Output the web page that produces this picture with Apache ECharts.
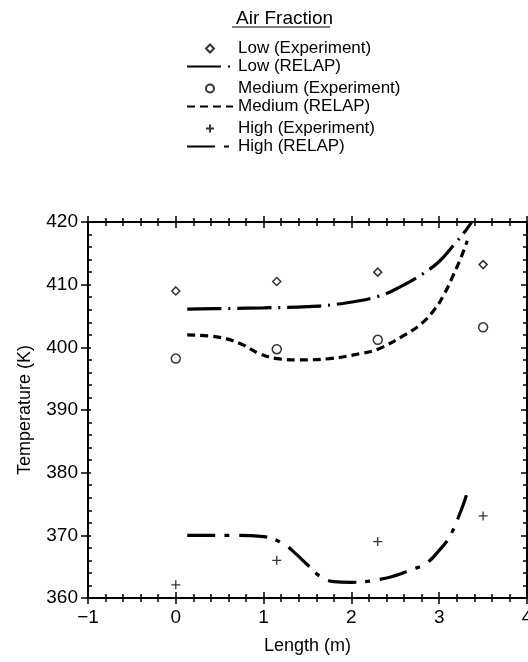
<!DOCTYPE html>
<html>
<head>
<meta charset="utf-8">
<title>Air Fraction</title>
<script src="https://cdn.jsdelivr.net/npm/echarts@6/dist/echarts.min.js"></script>
<style>
  html, body { margin: 0; padding: 0; background: #fff; }
  #main { width: 528px; height: 662px; }
</style>
</head>
<body>
<div id="main"></div>
<script>
// experiment positions (m) and measured temperatures (K)
var expX = [0, 1.15, 2.3, 3.5]
var lowExp = [409.0, 410.5, 412.0, 413.2]
var medExp = [398.2, 399.7, 401.2, 403.2]
var highExp = [362.1, 366.0, 369.0, 373.1]

// RELAP curves
var lowRelapX = [0.13, 0.6, 1.0, 1.5, 1.9, 2.3, 2.55, 2.8, 3.0, 3.17, 3.3, 3.37]
var lowRelapY = [406.1, 406.2, 406.3, 406.5, 407.0, 408.1, 409.6, 411.6, 413.7, 416.4, 418.6, 420.0]
var medRelapX = [0.13, 0.5, 0.75, 0.95, 1.15, 1.4, 1.75, 2.1, 2.3, 2.6, 2.8, 2.95, 3.05, 3.15, 3.25, 3.32]
var medRelapY = [402.0, 401.6, 400.5, 399.0, 398.2, 398.0, 398.2, 399.0, 399.7, 401.9, 403.8, 406.1, 408.3, 411.2, 414.4, 417.0]
var highRelapX = [0.13, 0.6, 1.0, 1.22, 1.34, 1.5, 1.64, 1.8, 2.0, 2.4, 2.7, 2.85, 3.0, 3.12, 3.25, 3.31]
var highRelapY = [370.0, 370.0, 369.8, 368.7, 367.4, 365.3, 363.5, 362.6, 362.5, 363.2, 364.6, 365.5, 367.6, 369.8, 374.0, 376.4]

var names = ['Low (Experiment)', 'Low (RELAP)', 'Medium (Experiment)', 'Medium (RELAP)', 'High (Experiment)', 'High (RELAP)']

function pairs (xs, ys) {
  return xs.map(function (x, i) { return [x, ys[i]] })
}

var font = 'Liberation Sans'
var plus = 'path://M0,5L10,5M5,0L5,10'
var diamond = 'path://M5,0L10,5L5,10L0,5Z'

// one axis pair per side: ticks outside and ticks inside
function xAx (pos, inside, labels) {
  return {
    type: 'value', min: -1, max: 4, interval: 1, position: pos,
    axisLine: { show: !inside, onZero: false, lineStyle: { color: '#000', width: 2 } },
    axisTick: { inside: inside, length: 6, lineStyle: { color: '#000', width: 1.5 } },
    minorTick: { show: true, splitNumber: 5, length: 4, lineStyle: { color: '#000', width: 1.5 } },
    axisLabel: {
      show: labels, color: '#000', fontSize: 19, fontFamily: font, margin: 10,
      formatter: function (v) { return String(v).replace('-', '\u2212') }
    },
    splitLine: { show: false },
    name: labels ? 'Length (m)' : '',
    nameLocation: 'middle', nameGap: 39,
    nameTextStyle: { color: '#000', fontSize: 18, fontFamily: font }
  }
}
function yAx (pos, inside, labels, majorLen, minor) {
  return {
    type: 'value', min: 360, max: 420, interval: 10, position: pos,
    axisLine: { show: !inside || pos === 'right', onZero: false, lineStyle: { color: '#000', width: 2 } },
    axisTick: { inside: inside, length: majorLen, lineStyle: { color: '#000', width: 1.5 } },
    minorTick: { show: minor, splitNumber: 5, length: 4, lineStyle: { color: '#000', width: 1.5 } },
    axisLabel: { show: labels, color: '#000', fontSize: 19, fontFamily: font, margin: 10 },
    splitLine: { show: false },
    name: labels ? 'Temperature (K)' : '',
    nameLocation: 'middle', nameGap: 54,
    nameTextStyle: { color: '#000', fontSize: 18, fontFamily: font }
  }
}

// line entries: hide the little symbol ECharts puts in the middle
function lineItem (name) {
  return { name: name, itemStyle: { opacity: 0 } }
}

function legendBlock (top, data) {
  return {
    orient: 'vertical', left: 181, top: top,
    itemWidth: 46, itemHeight: 8, itemGap: 1,
    symbolKeepAspect: true,
    data: data,
    selectedMode: false,
    textStyle: { color: '#000', fontSize: 17, fontFamily: font }
  }
}

var chart = echarts.init(document.getElementById('main'), null, { renderer: 'canvas' })
var option = {
  animation: false,
  backgroundColor: '#fff',
  title: {
    text: 'Air Fraction', left: 231, top: 4,
    textStyle: { color: '#000', fontSize: 19, fontWeight: 'normal', fontFamily: font }
  },
  graphic: [
    { type: 'line', shape: { x1: 232, y1: 27, x2: 330, y2: 27 }, style: { stroke: '#000', lineWidth: 1.2 } }
  ],
  legend: [
    legendBlock(35, [{ name: names[0], icon: diamond }, lineItem(names[1])]),
    legendBlock(75, [names[2], lineItem(names[3])]),
    legendBlock(115, [{ name: names[4], icon: plus }, lineItem(names[5])])
  ],
  grid: { left: 88, right: 1, top: 222, bottom: 64, outerBoundsMode: 'none', containLabel: false },
  xAxis: [xAx('bottom', false, true), xAx('bottom', true, false), xAx('top', false, false), xAx('top', true, false)],
  yAxis: [yAx('left', false, true, 7, false), yAx('left', true, false, 3, true), yAx('right', true, false, 6, true)],
  series: [
    {
      name: names[0], type: 'scatter', symbol: diamond, symbolSize: 8,
      itemStyle: { color: '#fff', borderColor: '#000', borderWidth: 1.5 },
      data: pairs(expX, lowExp)
    },
    {
      name: names[1], type: 'line', smooth: 0.4, showSymbol: false, symbol: 'none',
      lineStyle: { color: '#000', width: 3.2, type: [34, 7, 2, 7] },
      itemStyle: { color: '#000' },
      data: pairs(lowRelapX, lowRelapY)
    },
    {
      name: names[2], type: 'scatter', symbol: 'circle', symbolSize: 9,
      itemStyle: { color: '#fff', borderColor: '#000', borderWidth: 1.5 },
      data: pairs(expX, medExp)
    },
    {
      name: names[3], type: 'line', smooth: 0.4, showSymbol: false, symbol: 'none',
      lineStyle: { color: '#000', width: 3.2, type: [8, 5] },
      itemStyle: { color: '#000' },
      data: pairs(medRelapX, medRelapY)
    },
    {
      name: names[4], type: 'scatter', symbol: plus, symbolSize: 9,
      itemStyle: { color: 'none', borderColor: '#000', borderWidth: 1.3 },
      data: pairs(expX, highExp)
    },
    {
      name: names[5], type: 'line', smooth: 0.4, showSymbol: false, symbol: 'none',
      lineStyle: { color: '#000', width: 3.2, type: [28, 9, 5, 10] },
      itemStyle: { color: '#000' },
      data: pairs(highRelapX, highRelapY)
    }
  ]
}
chart.setOption(option)
window.addEventListener('resize', function () {
  chart.resize()
})
</script>
</body>
</html>
